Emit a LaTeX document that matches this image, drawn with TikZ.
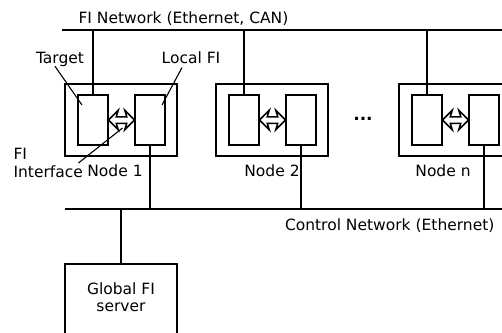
\documentclass[tikz,border=0pt]{standalone}
\usepackage{fontspec}
\setmainfont{DejaVu Sans}
\usepackage{tikz}
\usetikzlibrary{positioning, shapes, calc}
\tikzstyle{nb}=[%
      rectangle, draw=black, line width=1.8pt, fill=none,
      minimum width=112pt, minimum height=72pt, inner sep=0pt
]
\tikzstyle{ub}=[%
      rectangle, draw=black, line width=1.8pt, fill=white,
      minimum width=30pt, minimum height=50pt, inner sep=0pt
]
\tikzstyle{da}=[%
      double arrow, draw=black, line width=1.5pt, fill=white,
      double arrow head extend=6.5pt, double arrow head indent=2pt,
      minimum height=26pt, inner xsep=0pt, inner ysep=2.5pt
]
\tikzstyle{net}=[line width=2pt]
\tikzstyle{ln}=[line width=1.1pt]

\begin{document}
\begin{tikzpicture}[x=1pt, y=-1pt,
    font=\fontsize{15.5pt}{17.4pt}\selectfont
  ]
    \clip (0,0) rectangle (502,332);

    % the two networks
    \coordinate (fiL) at (62,30);
    \coordinate (fiR) at (502,30);
    \coordinate (ctL) at (65,209);
    \coordinate (ctR) at (502,209);
    \draw[net] (fiL) -- (fiR);
    \draw[net] (ctL) -- (ctR);
    \node (finet) [above right=1pt and 13pt of fiL] {FI Network (Ethernet, CAN)};
    \node (ctnet) [below left=6pt and 4pt of ctR] {Control Network (Ethernet)};

    % nodes
    \node[nb] (n1) at (121,120) {};
    \node[nb] (n2) at (272,120) {};
    \node[nb] (nn) at (455,120) {};
    \foreach \i in {1,2,n} {
      \node[ub, right=13pt of n\i.west] (t\i) {};
      \node[ub, left=12pt of n\i.east] (l\i) {};
      \node[da] (a\i) at ($(t\i.east)!0.5!(l\i.west)$) {};
      \draw[net] (t\i.north) -- (t\i.north |- fiL);
      \draw[net] (l\i.south) -- (l\i.south |- ctL);
    }
    \node (nl1) [below=4pt of n1.south, xshift=-6pt] {Node 1};
    \node (nl2) [below=4pt of n2.south] {Node 2};
    \node (nln) [below=4pt of nn.south, xshift=-12pt] {Node n};
    \node (dots) [font=\fontsize{17pt}{17pt}\bfseries] at (363,119) {...};

    % labels of node 1
    \node (tlab) at (60,59.5) {Target};
    \node (llab) at (191,58) {Local FI};
    \node (ilab) [align=left, anchor=west] at (10,163) {FI\\Interface};
    \draw[ln] ($(tlab.south)+(-5,-4)$) -- ($(t1.center)+(-11,-15)$);
    \draw[ln] ($(llab.south)+(-9,0)$) -- ($(l1.center)+(12,-15)$);
    \draw[ln] ($(ilab.east)+(-8,0)$) -- ($(a1.center)+(1,8)$);

    % server
    \node[nb, anchor=north, minimum height=90pt] (srv) at (121,263) {};
    \node (srvt) [below=16pt of srv.north, align=center] {Global FI\\server};
    \draw[net] (srv.north) -- (srv.north |- ctL);

  \end{tikzpicture}
\end{document}
